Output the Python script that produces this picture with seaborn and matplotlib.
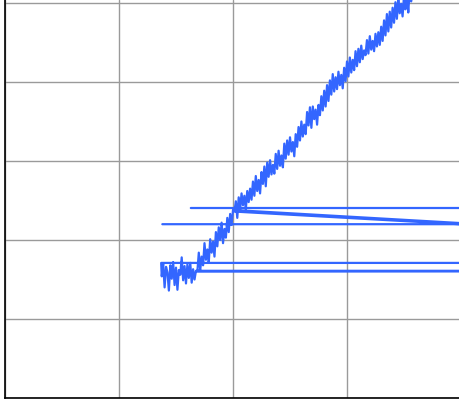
import matplotlib
matplotlib.use("Agg")
import matplotlib.pyplot as plt
import seaborn as sns
import pandas as pd

# Recorded trace, in the order the samples were logged.
# A few samples carry an out-of-range x (120), which draws the long
# horizontal returns across the plot.
lead_x = [16.3, 120.0, 120.0, 13.7]
lead_y = [24.05, 24.05, 17.1, 17.1]

trend_x = [
    13.750, 13.875, 14.000, 14.125, 14.250, 14.375, 14.500, 14.625, 14.750, 14.875,
    15.000, 15.125, 15.250, 15.375, 15.500, 15.625, 15.750, 15.875, 16.000, 16.125,
    16.250, 16.375, 16.500, 16.625, 16.750, 120.0, 16.875, 17.000, 17.125, 17.250,
    17.375, 17.500, 17.625, 17.750, 17.875, 18.000, 18.125, 18.250, 18.375, 18.500,
    18.625, 18.750, 18.875, 19.000, 19.125, 19.250, 19.375, 19.500, 19.625, 19.750,
    19.875, 20.000, 120.0, 20.125, 20.250, 20.375, 20.500, 20.625, 20.750, 20.875,
    21.000, 21.125, 21.250, 21.375, 21.500, 21.625, 21.750, 21.875, 22.000, 22.125,
    22.250, 22.375, 22.500, 22.625, 22.750, 22.875, 23.000, 23.125, 23.250, 23.375,
    23.500, 23.625, 23.750, 23.875, 24.000, 24.125, 24.250, 24.375, 24.500, 24.625,
    24.750, 24.875, 25.000, 25.125, 25.250, 25.375, 25.500, 25.625, 25.750, 25.875,
    26.000, 26.125, 26.250, 26.375, 26.500, 26.625, 26.750, 26.875, 27.000, 27.125,
    27.250, 27.375, 27.500, 27.625, 27.750, 27.875, 28.000, 28.125, 28.250, 28.375,
    28.500, 28.625, 28.750, 28.875, 29.000, 29.125, 29.250, 29.375, 29.500, 29.625,
    29.750, 29.875, 30.000, 30.125, 30.250, 30.375, 30.500, 30.625, 30.750, 30.875,
    31.000, 31.125, 31.250, 31.375, 31.500, 31.625, 31.750, 31.875, 32.000, 32.125,
    32.250, 32.375, 32.500, 32.625, 32.750, 32.875, 33.000, 33.125, 33.250, 33.375,
    33.500, 33.625, 33.750, 33.875, 34.000, 34.125, 34.250, 34.375, 34.500, 34.625,
    34.750, 34.875, 35.000, 35.125, 35.250, 35.375, 35.500, 35.625, 35.750, 35.875,
    36.000, 36.500,
]
trend_y = [
    15.4, 17.0, 14.0, 16.6, 15.9, 13.6, 16.8, 15.1, 17.2, 14.3,
    16.5, 13.7, 16.2, 15.6, 17.8, 14.9, 16.7, 14.5, 16.9, 15.2,
    17.1, 14.6, 16.3, 15.0, 16.1, 16.1, 16.0, 18.4, 16.2, 17.9,
    16.8, 19.6, 17.5, 18.8, 17.2, 20.1, 18.4, 19.8, 17.9, 21.0,
    19.2, 21.6, 20.0, 22.2, 19.6, 21.4, 20.3, 22.8, 21.0, 23.3,
    21.9, 23.8, 15.5, 23.6, 24.9, 22.8, 25.4, 23.9, 25.9, 24.4,
    25.6, 23.9, 26.2, 24.8, 26.5, 25.1, 27.4, 25.6, 28.1, 26.2,
    27.6, 25.9, 28.6, 27.1, 29.3, 26.8, 29.8, 28.0, 30.1, 28.3,
    29.5, 28.4, 30.9, 29.0, 31.3, 29.4, 30.7, 29.2, 32.2, 30.3,
    32.6, 30.8, 33.0, 31.2, 32.4, 30.6, 33.4, 31.8, 34.3, 32.6,
    35.0, 33.1, 34.6, 33.4, 36.2, 34.5, 36.8, 34.2, 36.9, 35.3,
    36.5, 34.6, 37.1, 35.8, 38.2, 36.4, 38.9, 36.9, 39.6, 37.6,
    40.2, 38.4, 41.0, 38.8, 40.6, 39.1, 41.3, 39.6, 40.9, 39.2,
    41.8, 40.1, 42.6, 40.7, 43.1, 41.2, 42.8, 41.5, 43.9, 42.0,
    44.2, 42.5, 44.6, 42.9, 44.0, 43.4, 45.3, 43.6, 45.8, 44.1,
    45.2, 43.9, 46.1, 44.5, 46.3, 44.7, 47.0, 45.2, 47.8, 45.9,
    48.6, 46.4, 48.9, 46.9, 49.4, 47.5, 50.1, 48.0, 50.6, 48.7,
    49.9, 48.3, 50.9, 49.2, 51.4, 48.8, 51.8, 50.2, 52.6, 51.1,
    53.4, 55.0,
]

tail_x = [120.0, 120.0, 13.8]
tail_y = [60.0, 22.0, 22.0]

df = pd.DataFrame({
    "t": lead_x + trend_x + tail_x,
    "v": lead_y + trend_y + tail_y,
})

sns.set_style("white")
plt.rcParams["font.family"] = ["DejaVu Sans"]

fig = plt.figure(figsize=(4.59, 4.0), dpi=100)
ax = fig.add_axes([5 / 459, 2 / 400, 461.7 / 459, 398 / 400])

sns.lineplot(data=df, x="t", y="v", sort=False, estimator=None,
             color="#3366FF", linewidth=1.6, ax=ax)

ax.set_xlim(0, 40.5)
ax.set_ylim(0, 50.38)
ax.set_xticks([0, 10, 20, 30, 40])
ax.set_yticks([0, 10, 20, 30, 40, 50])
ax.grid(True, color="#9a9a9a", linewidth=1.0)
ax.set_axisbelow(True)
ax.tick_params(direction="in", length=4, width=1.0, color="#444444",
               labelleft=False, labelbottom=False)
ax.set_xlabel("")
ax.set_ylabel("")
for side in ("top", "right"):
    ax.spines[side].set_visible(False)
for side in ("left", "bottom"):
    ax.spines[side].set_color("black")
    ax.spines[side].set_linewidth(1.2)

fig.savefig("out.png", dpi=100)
